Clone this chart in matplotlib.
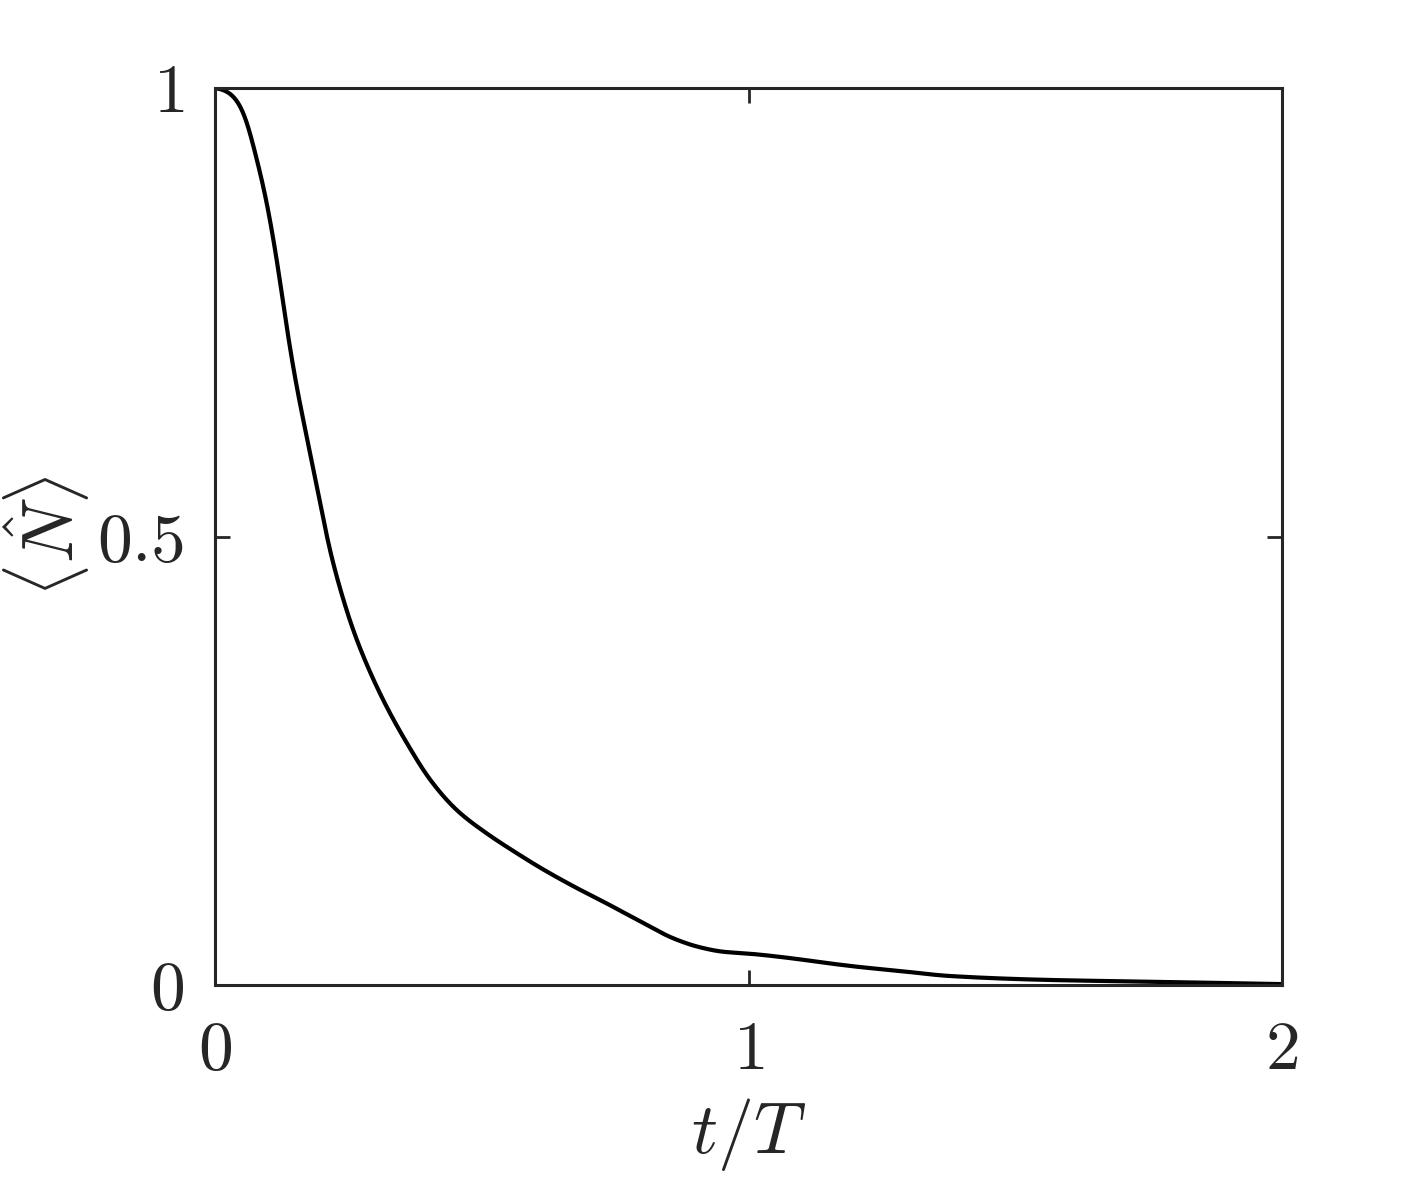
import matplotlib
matplotlib.use("Agg")
import matplotlib.pyplot as plt
import numpy as np

# Data
t_over_T = [0.0, 0.0257, 0.0412, 0.0538, 0.0662, 0.0755, 0.0881, 0.0975, 0.116, 0.137,
            0.153, 0.172, 0.191, 0.216, 0.247, 0.2624, 0.2905, 0.3218, 0.3593, 0.403,
            0.453, 0.5093, 0.5655, 0.609, 0.672, 0.734, 0.797, 0.859, 0.909, 0.953,
            1.0, 1.078, 1.14, 1.209, 1.278, 1.378, 1.565, 1.753, 2.0]
N_mean = [1.0, 0.995, 0.986, 0.972, 0.949, 0.927, 0.897, 0.871, 0.808, 0.723,
          0.667, 0.611, 0.555, 0.483, 0.417, 0.390, 0.349, 0.310, 0.270, 0.229,
          0.195, 0.169, 0.147, 0.131, 0.110, 0.091, 0.071, 0.052, 0.042, 0.037,
          0.035, 0.030, 0.025, 0.020, 0.016, 0.010, 0.0056, 0.0037, 0.001]
xticks = [0, 1, 2]
yticks = [0, 0.5, 1]
xticklabels = ["$0$", "$1$", "$2$"]
yticklabels = ["$0$", "$0.5$", "$1$"]

plt.rcParams['mathtext.fontset'] = 'cm'
plt.rcParams['font.family'] = 'serif'
plt.rcParams['font.serif'] = ['cmr10', 'DejaVu Serif']
plt.rcParams['axes.unicode_minus'] = False

fig = plt.figure(figsize=(14.17, 11.81), dpi=100)
ax = fig.add_axes([215/1417, 1-985/1181, (1282-215)/1417, (985-88)/1181])

# monotone cubic (PCHIP) interpolation through the read points, lightly smoothed for drawing
x = np.array(t_over_T); y = np.array(N_mean)
def pchip(x, y, xs):
    h = np.diff(x); d = np.diff(y)/h
    m = np.zeros_like(y)
    for k in range(1, len(x)-1):
        if d[k-1]*d[k] <= 0:
            m[k] = 0
        else:
            w1 = 2*h[k]+h[k-1]; w2 = h[k]+2*h[k-1]
            m[k] = (w1+w2)/(w1/d[k-1]+w2/d[k])
    m[0] = 0.0; m[-1] = d[-1]
    idx = np.clip(np.searchsorted(x, xs)-1, 0, len(x)-2)
    hh = h[idx]; s = (xs-x[idx])/hh
    h00 = 2*s**3-3*s**2+1; h10 = s**3-2*s**2+s
    h01 = -2*s**3+3*s**2; h11 = s**3-s**2
    return h00*y[idx]+h10*hh*m[idx]+h01*y[idx+1]+h11*hh*m[idx+1]

xs = np.linspace(0, 2, 4001)
ys = pchip(x, y, xs)
sig = 14
k = np.arange(-4*sig, 4*sig+1)
g = np.exp(-0.5*(k/sig)**2); g /= g.sum()
pad = len(k)//2
ypad = np.concatenate([ys[1:pad+1][::-1], ys, 2*ys[-1]-ys[-pad-1:-1][::-1]])
ysm = np.convolve(ypad, g, mode='valid')
ax.plot(xs, ysm, color='black', lw=3.0, solid_capstyle='round')

ax.set_xlim(0, 2)
ax.set_ylim(0, 1)
ax.set_xticks(xticks)
ax.set_xticklabels(xticklabels)
ax.set_yticks(yticks)
ax.set_yticklabels(yticklabels)
ax.tick_params(direction='in', length=11, width=2, colors='#262626',
               top=True, right=True, labelsize=50, pad=22)
ax.tick_params(axis='x', pad=26)
for s in ax.spines.values():
    s.set_linewidth(2.2)
    s.set_color('#262626')
ax.set_xlabel(r'$t/T$', fontsize=52, color='#262626', labelpad=10)
ax.set_ylabel(r'$\langle\hat{N}\rangle$', fontsize=52, color='#262626')
ax.yaxis.set_label_coords(-0.115, 0.5)

fig.savefig('out.png', dpi=100)
